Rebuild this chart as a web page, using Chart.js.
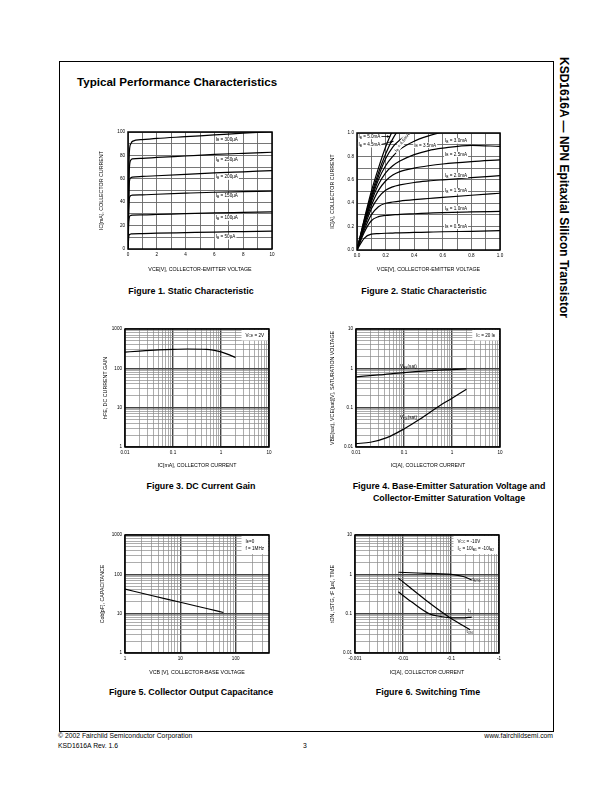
<!DOCTYPE html>
<html>
<head>
<meta charset="utf-8">
<script src="https://cdn.jsdelivr.net/npm/chart.js@4.4.1/dist/chart.umd.min.js"></script>
<style>
  body { margin: 0; background: #fff; font-family: "Liberation Sans", Arial, sans-serif; }
  #page { position: relative; width: 612px; height: 792px; overflow: hidden; }
  .frame { position: absolute; left: 59px; top: 61px; width: 495px; height: 671px; border: 1.2px solid #000; box-sizing: border-box; }
  canvas { position: absolute; }
  .t { position: absolute; white-space: nowrap; color: #000; line-height: 1; }
  .cap { position: absolute; white-space: nowrap; font-weight: bold; font-size: 8.9px; line-height: 12px; text-align: center; transform: translateX(-50%); }
</style>
</head>
<body>
<div id="page">
  <div class="frame"></div>
  <div class="t" style="left:77px;top:76px;font-size:11.6px;font-weight:bold;">Typical Performance Characteristics</div>
  <div class="t" style="left:570px;top:57px;font-size:12px;font-weight:bold;transform:rotate(90deg);transform-origin:0 0;">KSD1616A — NPN Epitaxial Silicon Transistor</div>

  <canvas id="c1"></canvas>
  <canvas id="c2"></canvas>
  <canvas id="c3"></canvas>
  <canvas id="c4"></canvas>
  <canvas id="c5"></canvas>
  <canvas id="c6"></canvas>

  <div class="cap" style="left:191px;top:285px;">Figure 1. Static Characteristic</div>
  <div class="cap" style="left:424px;top:285px;">Figure 2. Static Characteristic</div>
  <div class="cap" style="left:201px;top:480px;">Figure 3. DC Current Gain</div>
  <div class="cap" style="left:449px;top:480px;">Figure 4. Base-Emitter Saturation Voltage and<br>Collector-Emitter Saturation Voltage</div>
  <div class="cap" style="left:191px;top:686px;">Figure 5. Collector Output Capacitance</div>
  <div class="cap" style="left:428px;top:686px;">Figure 6. Switching Time</div>

  <div class="t" style="left:58px;top:733px;font-size:6.8px;">© 2002 Fairchild Semiconductor Corporation</div>
  <div class="t" style="left:58px;top:743px;font-size:6.8px;">KSD1616A Rev. 1.6</div>
  <div class="t" style="left:303px;top:743px;font-size:6.8px;">3</div>
  <div class="t" style="right:59px;top:733px;font-size:6.8px;">www.fairchildsemi.com</div>
</div>

<script>
// figure 1: Ic[mA] vs Vce[V] for several Ib
const fig1Vce = [0, 0.05, 0.1, 0.2, 0.3, 1, 2, 4, 6, 8, 10];
const fig1Ib300 = [0, 55, 84, 90, 92, 93.5, 94.5, 96, 97.5, 99, 100.5];
const fig1Ib250 = [0, 45, 70, 76, 77, 77.5, 78.3, 79.5, 80.8, 81.8, 82.7];
const fig1Ib200 = [0, 40, 58, 61, 61.5, 62, 62.6, 63.8, 65, 66, 67];
const fig1Ib150 = [0, 32, 44, 45.7, 46, 46.3, 46.8, 47.7, 48.5, 49, 49.5];
const fig1Ib100 = [0, 22, 27.5, 28.7, 29, 29.2, 29.5, 30.2, 30.8, 31.3, 31.8];
const fig1Ib50 = [0, 10, 12.3, 12.8, 13, 13.2, 13.5, 14, 14.5, 14.9, 15.3];
const fig1XTicks = [0, 2, 4, 6, 8, 10];
const fig1YTicks = [0, 20, 40, 60, 80, 100];

// figure 2: Ic[A] vs Vce[V]
const fig2Vce = [0, 0.05, 0.1, 0.15, 0.2, 0.25, 0.3, 0.4, 0.5, 0.6, 0.8, 1.0];
const fig2Ib05 = [0, 0.1, 0.135, 0.14, 0.143, 0.145, 0.147, 0.15, 0.153, 0.156, 0.16, 0.165];
const fig2Ib10 = [0, 0.15, 0.25, 0.285, 0.295, 0.3, 0.305, 0.31, 0.315, 0.32, 0.326, 0.33];
const fig2Ib15 = [0, 0.17, 0.3, 0.37, 0.4, 0.41, 0.418, 0.43, 0.44, 0.45, 0.468, 0.485];
const fig2Ib20 = [0, 0.19, 0.35, 0.45, 0.51, 0.54, 0.556, 0.577, 0.59, 0.6, 0.618, 0.635];
const fig2Ib25 = [0, 0.21, 0.38, 0.51, 0.59, 0.64, 0.67, 0.7, 0.72, 0.735, 0.755, 0.77];
const fig2Ib30 = [0, 0.22, 0.41, 0.56, 0.66, 0.72, 0.76, 0.815, 0.85, 0.87, 0.895, 0.885];
const fig2Ib35 = [0, 0.23, 0.43, 0.6, 0.72, 0.8, 0.86, 0.93, 0.975, 1.01, 1.08, 1.12];
const fig2Ib40 = [0, 0.24, 0.45, 0.63, 0.78, 0.88, 0.94, 1.03, 1.1, 1.15, 1.2, 1.25];
const fig2Ib45 = [0, 0.25, 0.47, 0.66, 0.82, 0.95, 1.04, 1.12, 1.18, 1.22, 1.27, 1.3];
const fig2Ib50 = [0, 0.26, 0.5, 0.7, 0.88, 1.02, 1.1, 1.18, 1.23, 1.27, 1.32, 1.35];
const fig2TickLabels = ['0.0', '0.2', '0.4', '0.6', '0.8', '1.0'];

// figure 3: hFE vs Ic
const fig3Ic = [0.01, 0.02, 0.05, 0.1, 0.2, 0.5, 1, 1.5, 2];
const fig3Hfe = [258, 275, 295, 305, 310, 305, 262, 220, 188];
const fig3XTicks = ['0.01', '0.1', '1', '10'];
const fig3YTicks = ['1', '10', '100', '1000'];

// figure 4: saturation voltages vs Ic
const fig4IcBe = [0.01, 0.03, 0.1, 0.3, 1, 2];
const fig4Vbe = [0.61, 0.68, 0.78, 0.86, 0.93, 0.97];
const fig4IcCe = [0.01, 0.02, 0.044, 0.1, 0.22, 0.48, 1, 2];
const fig4Vce = [0.0122, 0.0132, 0.0173, 0.0288, 0.052, 0.1, 0.174, 0.295];
const fig4XTicks = ['0.01', '0.1', '1', '10'];
const fig4YTicks = ['0.01', '0.1', '1', '10'];

// figure 5: Cob vs Vcb
const fig5Vcb = [1, 3, 10, 30, 60];
const fig5Cob = [42, 29, 19.5, 13.5, 10.7];
const fig5XTicks = ['1', '10', '100'];
const fig5YTicks = ['1', '10', '100', '1000'];

// figure 6: switching time vs Ic
const fig6IcStg = [0.008, 0.02, 0.05, 0.1, 0.18, 0.27];
const fig6Tstg = [1.13, 1.08, 1.04, 1.0, 0.88, 0.72];
const fig6IcOn = [0.008, 0.03, 0.094, 0.25];
const fig6Ton = [0.8, 0.22, 0.08, 0.039];
const fig6IcF = [0.008, 0.015, 0.036, 0.06, 0.1, 0.17, 0.27];
const fig6Tf = [0.36, 0.2, 0.098, 0.085, 0.078, 0.078, 0.082];
const fig6XTicks = ['-0.001', '-0.01', '-0.1', '-1'];
const fig6YTicks = ['0.01', '0.1', '1', '10'];

const FONT = '"Liberation Sans", Arial, sans-serif';
const TICK = 4.6, TITLE = 5.3, NOTE = 4.6;
Chart.defaults.font.family = FONT;
Chart.defaults.color = '#000';

function isDecade(v) {
  const l = Math.log10(v);
  return Math.abs(l - Math.round(l)) < 1e-6;
}

function logTicks(min, max) {
  const out = [];
  for (let e = Math.floor(Math.log10(min)); e <= Math.ceil(Math.log10(max)); e++) {
    for (let m = 1; m < 10; m++) {
      const v = m * Math.pow(10, e);
      if (v >= min * 0.999 && v <= max * 1.001) out.push({ value: v });
    }
  }
  return out;
}

function pickLabel(list, v) {
  const s = list.find(l => Math.abs(Math.abs(parseFloat(l)) - v) < 1e-9 * Math.max(1, v) + 1e-12);
  return s === undefined ? '' : s;
}

function richParts(s) {
  return s.split(/(\{[^}]*\})/).filter(p => p).map(p => p[0] === '{' ? { t: p.slice(1, -1), sub: true } : { t: p, sub: false });
}
function richWidth(ctx, s, size) {
  let w = 0;
  richParts(s).forEach(p => {
    ctx.font = (p.sub ? size * 0.72 : size) + 'px ' + FONT;
    w += ctx.measureText(p.t).width;
  });
  return w;
}
function drawRich(ctx, s, x, y, size) {
  ctx.textBaseline = 'middle';
  ctx.textAlign = 'left';
  richParts(s).forEach(p => {
    ctx.font = (p.sub ? size * 0.72 : size) + 'px ' + FONT;
    ctx.fillText(p.t, x, p.sub ? y + size * 0.28 : y);
    x += ctx.measureText(p.t).width;
  });
}

// labels, arrows, info box and the black plot frame
function decor(extra) {
  return {
    id: 'decor',
    afterDatasetsDraw(chart) {
      const { ctx, chartArea: a } = chart;
      const sx = chart.scales.x, sy = chart.scales.y;
      ctx.save();
      (extra.arrows || []).forEach(ar => {
        const x0 = sx.getPixelForValue(ar[0]), y0 = sy.getPixelForValue(ar[1]);
        const x1 = sx.getPixelForValue(ar[2]), y1 = sy.getPixelForValue(ar[3]);
        const ang = Math.atan2(y1 - y0, x1 - x0);
        ctx.strokeStyle = '#000'; ctx.lineWidth = 0.8;
        ctx.beginPath(); ctx.moveTo(x0, y0); ctx.lineTo(x1, y1); ctx.stroke();
        ctx.fillStyle = '#000';
        ctx.beginPath();
        ctx.moveTo(x1, y1);
        ctx.lineTo(x1 - 3.5 * Math.cos(ang - 0.4), y1 - 3.5 * Math.sin(ang - 0.4));
        ctx.lineTo(x1 - 3.5 * Math.cos(ang + 0.4), y1 - 3.5 * Math.sin(ang + 0.4));
        ctx.closePath(); ctx.fill();
      });
      (extra.notes || []).forEach(n => {
        const px = sx.getPixelForValue(n.x), py = sy.getPixelForValue(n.y);
        const w = richWidth(ctx, n.text, NOTE);
        ctx.save();
        ctx.translate(px, py);
        if (n.rot) ctx.rotate(n.rot * Math.PI / 180);
        const x0 = n.center ? -w / 2 : 0;
        if (n.bg !== false) {
          ctx.fillStyle = '#fff';
          ctx.fillRect(x0 - 1, -NOTE * 0.6, w + 2, NOTE * 1.2);
        }
        ctx.fillStyle = '#000';
        drawRich(ctx, n.text, x0, 0, NOTE);
        ctx.restore();
      });
      if (extra.box) {
        const lines = extra.box;
        const mw = Math.max(...lines.map(l => richWidth(ctx, l, NOTE)));
        const w = mw + 8, h = lines.length * 7.5 + 3;
        const bx = a.right - w - 1, by = a.top + 1;
        ctx.fillStyle = '#fff';
        ctx.fillRect(bx, by, w, h);
        ctx.fillStyle = '#000';
        lines.forEach((l, i) => drawRich(ctx, l, bx + 4, by + 5.3 + i * 7.5, NOTE));
      }
      ctx.restore();
    },
    afterDraw(chart) {
      const { ctx, chartArea: a } = chart;
      ctx.save();
      ctx.strokeStyle = '#000';
      ctx.lineWidth = 1.5;
      ctx.strokeRect(a.left, a.top, a.right - a.left, a.bottom - a.top);
      ctx.restore();
    }
  };
}

function curve(xs, ys) {
  return {
    data: xs.map((x, i) => ({ x: x, y: ys[i] })),
    borderColor: '#000',
    borderWidth: 1.2,
    pointRadius: 0,
    fill: false,
    cubicInterpolationMode: 'monotone'
  };
}

function linAxis(min, max, step, labels, title) {
  return {
    type: 'linear', min: min, max: max,
    grid: { color: '#666', lineWidth: 0.9, drawTicks: false },
    border: { display: false },
    ticks: {
      stepSize: step, autoSkip: false, maxRotation: 0, padding: 3,
      font: { size: TICK },
      callback: v => labels.includes(v) ? String(v) : ''
    },
    title: { display: true, text: title, font: { size: TITLE }, padding: { top: 2.8, bottom: 2.8 } }
  };
}

function logAxis(min, max, labels, title) {
  return {
    type: 'logarithmic', min: min, max: max,
    afterBuildTicks: s => { s.ticks = logTicks(min, max); },
    grid: {
      drawTicks: false,
      color: c => (c.tick && isDecade(c.tick.value)) ? '#444' : '#8a8a8a',
      lineWidth: c => (c.tick && isDecade(c.tick.value)) ? 1.4 : 0.7
    },
    border: { display: false },
    ticks: {
      autoSkip: false, maxRotation: 0, padding: 3,
      font: { size: TICK },
      callback: v => isDecade(v) ? pickLabel(labels, v) : ''
    },
    title: { display: true, text: title, font: { size: TITLE }, padding: { top: 2.8, bottom: 2.8 } }
  };
}

function makeChart(id, plot, yTitleX, xTitleY, xAxis, yAxis, datasets, extra) {
  const cv = document.getElementById(id);
  const box = { l: yTitleX - 6, t: plot.t - 6, r: plot.r + 10, b: xTitleY + 6 };
  cv.width = box.r - box.l;
  cv.height = box.b - box.t;
  cv.style.left = box.l + 'px';
  cv.style.top = box.t + 'px';
  const yW = plot.l - box.l, xH = box.b - plot.b;
  xAxis.afterFit = s => { s.height = xH; s.paddingLeft = 0; s.paddingRight = 0; };
  yAxis.afterFit = s => { s.width = yW; s.paddingTop = 0; s.paddingBottom = 0; };
  return new Chart(cv, {
    type: 'line',
    data: { datasets: datasets },
    options: {
      responsive: false,
      animation: false,
      events: [],
      layout: { padding: { top: 6, right: 10, left: 0, bottom: 0 } },
      plugins: { legend: { display: false }, tooltip: { enabled: false } },
      scales: { x: xAxis, y: yAxis }
    },
    plugins: [decor(extra)]
  });
}

// Figure 1
makeChart('c1', { l: 128, t: 132, r: 272, b: 249 }, 102, 270,
  linAxis(0, 10, 1, fig1XTicks, 'VCE[V], COLLECTOR-EMITTER VOLTAGE'),
  linAxis(0, 100, 10, fig1YTicks, 'IC[mA], COLLECTOR CURRENT'),
  [fig1Ib300, fig1Ib250, fig1Ib200, fig1Ib150, fig1Ib100, fig1Ib50].map(ys => curve(fig1Vce, ys)),
  {
    notes: [
      { text: 'I{B} = 300µA', x: 6.1, y: 93.8 },
      { text: 'I{B} = 250µA', x: 6.1, y: 76.3 },
      { text: 'I{B} = 200µA', x: 6.1, y: 61.5 },
      { text: 'I{B} = 150µA', x: 6.1, y: 45.3 },
      { text: 'I{B} = 100µA', x: 6.1, y: 26.5 },
      { text: 'I{B} = 50µA', x: 6.1, y: 10.5 }
    ]
  });

// Figure 2
const fig2X = linAxis(0, 1, 0.1, [], 'VCE[V], COLLECTOR-EMITTER VOLTAGE');
fig2X.ticks.callback = v => pickLabel(fig2TickLabels, v);
const fig2Y = linAxis(0, 1, 0.1, [], 'IC[A], COLLECTOR CURRENT');
fig2Y.ticks.callback = v => pickLabel(fig2TickLabels, v);
makeChart('c2', { l: 357, t: 133, r: 500, b: 250 }, 333, 270, fig2X, fig2Y,
  [fig2Ib05, fig2Ib10, fig2Ib15, fig2Ib20, fig2Ib25, fig2Ib30, fig2Ib35, fig2Ib40, fig2Ib45, fig2Ib50].map(ys => curve(fig2Vce, ys)),
  {
    arrows: [[0.151, 0.97, 0.232, 0.97], [0.164, 0.9, 0.256, 0.93]],
    notes: [
      { text: 'I{B} = 5.0mA', x: 0.01, y: 0.97 },
      { text: 'I{B} = 4.5mA', x: 0.01, y: 0.9 },
      { text: 'I{B} = 4.0mA', x: 0.316, y: 0.92, rot: -53, center: true },
      { text: 'I{B} = 3.5mA', x: 0.4, y: 0.895 },
      { text: 'I{B} = 3.0mA', x: 0.616, y: 0.932 },
      { text: 'I{B} = 2.5mA', x: 0.616, y: 0.818 },
      { text: 'I{B} = 2.0mA', x: 0.616, y: 0.638 },
      { text: 'I{B} = 1.5mA', x: 0.616, y: 0.504 },
      { text: 'I{B} = 1.0mA', x: 0.616, y: 0.356 },
      { text: 'I{B} = 0.5mA', x: 0.616, y: 0.203 }
    ]
  });

// Figure 3
makeChart('c3', { l: 125, t: 329, r: 269, b: 447 }, 106, 466,
  logAxis(0.01, 10, fig3XTicks, 'IC[mA], COLLECTOR CURRENT'),
  logAxis(1, 1000, fig3YTicks, 'hFE, DC CURRENT GAIN'),
  [curve(fig3Ic, fig3Hfe)],
  { box: ['V{CE} = 2V'] });

// Figure 4
makeChart('c4', { l: 356, t: 329, r: 500, b: 447 }, 333, 466,
  logAxis(0.01, 10, fig4XTicks, 'IC[A], COLLECTOR CURRENT'),
  logAxis(0.01, 10, fig4YTicks, 'VBE(sat), VCE(sat)[V], SATURATION VOLTAGE'),
  [curve(fig4IcBe, fig4Vbe), curve(fig4IcCe, fig4Vce)],
  {
    notes: [
      { text: 'V{BE}(sat)', x: 0.083, y: 1.09, bg: false },
      { text: 'V{CE}(sat)', x: 0.083, y: 0.0546, bg: false }
    ],
    box: ['I{C} = 20 I{B}']
  });

// Figure 5
makeChart('c5', { l: 125, t: 535, r: 269, b: 653 }, 103, 673,
  logAxis(1, 400, fig5XTicks, 'VCB [V], COLLECTOR-BASE VOLTAGE'),
  logAxis(1, 1000, fig5YTicks, 'Cob[pF], CAPACITANCE'),
  [curve(fig5Vcb, fig5Cob)],
  { box: ['I{E}=0', 'f = 1MHz'] });

// Figure 6
makeChart('c6', { l: 355, t: 535, r: 499, b: 653 }, 333, 673,
  logAxis(0.001, 1, fig6XTicks, 'IC[A], COLLECTOR CURRENT'),
  logAxis(0.01, 10, fig6YTicks, 'tON, tSTG, tF [µs], TIME'),
  [curve(fig6IcStg, fig6Tstg), curve(fig6IcOn, fig6Ton), curve(fig6IcF, fig6Tf)],
  {
    notes: [
      { text: 't{STG}', x: 0.28, y: 0.72, bg: false },
      { text: 't{f}', x: 0.23, y: 0.12, bg: false },
      { text: 't{ON}', x: 0.21, y: 0.034, bg: false }
    ],
    box: ['V{CC} = -10V', 'I{C} = 10I{B1} = -10I{B2}']
  });
</script>
</body>
</html>
